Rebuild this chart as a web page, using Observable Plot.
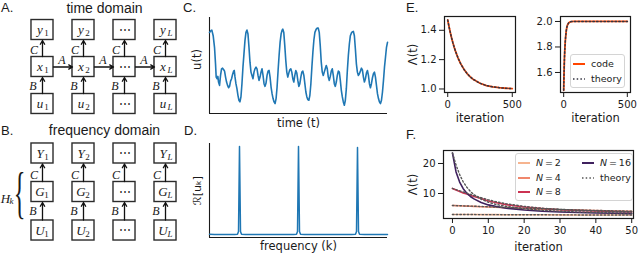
<!DOCTYPE html>
<html><head><meta charset="utf-8">
<script src="https://cdn.jsdelivr.net/npm/d3@7"></script>
<script src="https://cdn.jsdelivr.net/npm/@observablehq/plot@0.6"></script>
<style>
body{margin:0;background:#fff;}
#fig{position:relative;width:640px;height:256px;overflow:hidden;font-family:"DejaVu Sans",sans-serif;color:#1a1a1a;}
#fig > svg{position:absolute;overflow:visible;}
.lab{position:absolute;font-family:"Liberation Sans",Arial,sans-serif;font-size:13px;line-height:14px;color:#1a1a1a;}
.legend{position:absolute;background:rgba(255,255,255,0.85);border:1px solid #d4d4d4;border-radius:3px;font-family:"DejaVu Sans",sans-serif;font-size:9.5px;color:#222;}
.legend .item{position:absolute;display:flex;align-items:center;white-space:nowrap;line-height:12px;}
.legend .item svg{position:static;margin-right:6px;display:block;}
</style></head>
<body><div id="fig"></div>
<script>
// ---------- data ----------
const diagramCols = ["1", "2", "⋯", "L"];
const timeRows = ["y", "x", "u"];
const freqRows = ["Y", "G", "U"];
const vertLabels = ["C", "B"];
const horizLabel = "A";
const panelLetters = ["A.", "B.", "C.", "D.", "E.", "F."];
const diagramTitles = ["time domain", "frequency domain"];

// panel C: u(t) (time, value)
const signal = [
[43,245],[47,250],[50,252],[54,235],[58,200],[61,150],[63,110],[66,105],[68,112],[70,95],[73,85],[76,115],[79,135],[82,137],[85,133],[88,128],[91,110],[94,95],[97,85],[100,78],[103,82],[106,98],[109,105],[112,118],[115,128],[117,130],[119,112],[122,90],[125,75],[128,55],[131,40],[134,35],[137,50],[140,90],[143,140],[146,180],[149,220],[152,245],[155,252],
[158,240],[161,200],[164,155],[167,125],[170,115],[173,105],[176,125],[179,135],[182,140],[185,135],[188,115],[191,100],[194,110],[197,125],[200,135],[203,115],[206,90],[209,82],[212,92],[215,115],[218,128],[221,130],[224,110],[227,80],[230,60],[233,45],[236,35],[239,30],[242,45],[245,80],[248,130],[251,175],[254,215],[257,240],[260,252],[262,255],
[265,245],[268,205],[271,160],[274,125],[277,110],[280,122],[283,132],[286,135],[289,125],[292,105],[295,95],[298,115],[301,130],[304,122],[307,100],[310,82],[313,90],[316,110],[319,125],[322,128],[325,115],[328,90],[331,65],[334,50],[337,42],[340,40],[343,55],[346,90],[349,140],[352,185],[355,222],[358,245],[362,255],[365,258],[368,258],
[371,245],[374,205],[377,155],[380,125],[383,115],[386,125],[389,135],[392,145],[395,135],[398,110],[401,100],[404,112],[407,128],[410,135],[413,115],[416,90],[419,82],[422,95],[425,115],[428,128],[431,125],[434,100],[437,70],[440,50],[443,35],[446,25],[449,40],[452,75],[455,130],[458,175],[461,210],[464,235],[468,245],[471,247],[473,248],
[476,235],[479,195],[482,150],[485,125],[488,115],[491,120],[494,128],[497,137],[500,132],[503,110],[506,95],[509,105],[512,122],[515,130],[518,115],[521,90],[524,78],[527,90],[530,108],[533,120],[536,125],[539,110],[542,85],[545,60],[548,45],[551,35],[554,30],[557,40],[560,65],[563,100],[566,140],[569,170],[572,200],[575,215]
];

// panel D: real part of spectrum (frequency, value)
const spectrum = [
[0,3.2],[5,3.0],[10,3.1],[15,2.9],[20,3.1],[25,3.0],[28,3.3],[29,6],[30,91],[31,6],[32,3.3],[36,3.0],[42,3.1],[48,2.9],[54,3.0],[60,3.1],[66,3.0],[72,2.9],[78,3.1],[84,3.0],[87,3.3],[88,6],[89,91],[90,6],[91,3.3],[95,3.0],[100,3.1],[106,2.9],[112,3.0],[118,3.1],[124,2.9],[130,3.0],[136,3.1],[142,3.0],[146,3.3],[147,6],[148,90],[149,6],[150,3.3],[155,3.0],[160,2.9],[165,3.1],[170,3.0],[175,3.1],[178,3.0]
];

// panel E
const iterE = [0,10,20,30,40,50,60,80,100,125,150,175,200,250,300,350,400,450,500];
const codeELeft   = [1.47,1.425,1.385,1.348,1.315,1.285,1.258,1.211,1.173,1.135,1.105,1.082,1.064,1.039,1.023,1.014,1.009,1.005,1.003];
const theoryELeft = [1.47,1.425,1.385,1.348,1.315,1.285,1.258,1.211,1.173,1.135,1.105,1.082,1.064,1.039,1.023,1.014,1.009,1.005,1.003];
const iterERight = [0,2,4,6,8,10,12,15,20,25,30,40,50,60,80,100,200,300,400,500];
const codeERight   = [1.46,1.56,1.64,1.71,1.76,1.80,1.835,1.875,1.925,1.955,1.973,1.99,1.996,1.999,2.0,2.0,2.0,2.0,2.0,2.0];
const theoryERight = [1.46,1.56,1.64,1.71,1.76,1.80,1.835,1.875,1.925,1.955,1.973,1.99,1.996,1.999,2.0,2.0,2.0,2.0,2.0,2.0];
const eLeftYTicks = [1.0, 1.2, 1.4];
const eRightYTicks = [1.6, 1.8, 2.0];
const eXTicks = [0, 500];
const legendE = ["code", "theory"];

// panel F
const Ns = [2, 4, 8, 16];
const iterF = [0,1,2,3,4,5,6,8,10,12,15,20,25,30,35,40,45,50];
const codeF = {
  2:  [3.0,3.0,3.0,2.99,2.99,2.98,2.98,2.97,2.96,2.95,2.94,2.92,2.9,2.88,2.86,2.85,2.83,2.82],
  4:  [6.0,5.95,5.9,5.85,5.8,5.75,5.7,5.6,5.5,5.4,5.25,5.0,4.8,4.6,4.45,4.3,4.15,4.05],
  8:  [11.7,11.2,10.7,10.2,9.8,9.4,9.0,8.3,7.5,7.0,6.3,5.5,5.0,4.6,4.35,4.15,4.0,3.85],
  16: [23.5,17.2,13.8,11.6,10.1,9.0,8.2,7.0,6.2,5.7,5.1,4.5,4.1,3.85,3.65,3.5,3.4,3.3]
};
const theoryF = {
  2:  [3.0,3.0,3.0,2.99,2.99,2.98,2.98,2.97,2.96,2.95,2.94,2.92,2.9,2.88,2.86,2.85,2.83,2.82],
  4:  [6.0,5.96,5.92,5.88,5.84,5.8,5.76,5.67,5.58,5.49,5.35,5.12,4.9,4.7,4.52,4.36,4.22,4.1],
  8:  [11.7,11.3,10.9,10.5,10.1,9.7,9.3,8.6,7.9,7.3,6.6,5.7,5.1,4.7,4.4,4.2,4.05,3.9],
  16: [23.5,19.5,16.3,13.9,12.1,10.7,9.6,8.1,7.1,6.4,5.7,4.9,4.4,4.1,3.85,3.7,3.55,3.45]
};
const fYTicks = [10, 20];
const fXTicks = [0, 10, 20, 30, 40, 50];

// ---------- styles ----------
const blue = "#1f77b4", orange = "#ff4500", theoryColor = "#333340";
const nColors = ["#f6b48f", "#f0876c", "#cc3352", "#3f215e"];
const serif = "Liberation Serif, DejaVu Serif, serif";
const sans = "DejaVu Sans, sans-serif";

const fig = document.getElementById("fig");
function place(node, left, top) { node.style.left = left + "px"; node.style.top = top + "px"; fig.appendChild(node); return node; }

// ---------- panels A / B ----------
function diagram(rows, title, yRange, yPad, withA, braceLabel) {
  const boxes = rows.flatMap(r => diagramCols.map(c => ({row: r, col: c, base: c === "⋯" ? "⋯" : r, sub: c === "⋯" ? "" : c})));
  const marks = [
    Plot.cell(boxes, {x: "col", y: "row", fill: "white", stroke: "#2b2b2b", strokeWidth: 1.4, inset: 0}),
    Plot.arrow(diagramCols, {x1: d => d, x2: d => d, y1: () => rows[2], y2: () => rows[1], insetStart: 10.5, insetEnd: 10.5, headLength: 5, stroke: "#111", strokeWidth: 1.3}),
    Plot.arrow(diagramCols, {x1: d => d, x2: d => d, y1: () => rows[1], y2: () => rows[0], insetStart: 10.5, insetEnd: 10.5, headLength: 5, stroke: "#111", strokeWidth: 1.3}),
    Plot.text(boxes.filter(d => d.sub), {x: "col", y: "row", text: "base", dx: -2.5, fontStyle: "italic", fontFamily: serif, fontSize: 13}),
    Plot.text(boxes.filter(d => /\d/.test(d.sub)), {x: "col", y: "row", text: "sub", dx: 4, dy: 3.5, fontFamily: serif, fontSize: 9}),
    Plot.text(boxes.filter(d => /[A-Z]/.test(d.sub)), {x: "col", y: "row", text: "sub", dx: 4.5, dy: 3.5, fontStyle: "italic", fontFamily: serif, fontSize: 9}),
    Plot.text(boxes.filter(d => !d.sub), {x: "col", y: "row", text: "base", fontFamily: serif, fontSize: 12}),
    Plot.text(diagramCols, {x: d => d, y: () => rows[1], text: () => vertLabels[0], dx: -8.5, dy: -17, fontStyle: "italic", fontFamily: serif, fontSize: 12}),
    Plot.text(diagramCols, {x: d => d, y: () => rows[1], text: () => vertLabels[1], dx: -9.5, dy: 19, fontStyle: "italic", fontFamily: serif, fontSize: 12}),
    Plot.text([title], {frameAnchor: "top", text: d => d, dx: 4, dy: 8, lineAnchor: "middle", fontFamily: "Liberation Sans, Arial, sans-serif", fontSize: 14})
  ];
  if (withA) {
    marks.push(
      Plot.arrow(diagramCols.slice(0, -1), {x1: d => d, x2: (d, i) => diagramCols[i + 1], y1: () => rows[1], y2: () => rows[1], insetStart: 11, insetEnd: 11, headLength: 5, stroke: "#111", strokeWidth: 1.3}),
      Plot.text(diagramCols.slice(0, -1), {x: d => d, y: () => rows[1], text: () => horizLabel, dx: 19.5, dy: -6.5, fontStyle: "italic", fontFamily: serif, fontSize: 12})
    );
  }
  if (braceLabel) {
    marks.push(
      Plot.text([braceLabel[0]], {frameAnchor: "top-left", text: d => d, dx: 5, dy: 76, textAnchor: "middle", lineAnchor: "middle", fontStyle: "italic", fontFamily: serif, fontSize: 13}),
      Plot.text([braceLabel[1]], {frameAnchor: "top-left", text: d => d, dx: 11, dy: 79, textAnchor: "middle", lineAnchor: "middle", fontStyle: "italic", fontFamily: serif, fontSize: 9}),
      Plot.text(["{"], {frameAnchor: "top-left", text: d => d, dx: 19, dy: 71, textAnchor: "middle", lineAnchor: "middle", fontFamily: serif, fontSize: 58})
    );
  }
  return Plot.plot({
    width: 200, height: 134, margin: 0,
    x: {type: "band", domain: diagramCols, range: [12, 195], padding: 0.463, round: false, axis: null},
    y: {type: "band", domain: rows, range: yRange, padding: yPad, round: false, axis: null},
    style: {fontFamily: sans, color: "#1a1a1a", background: "transparent"},
    marks
  });
}
place(diagram(timeRows, diagramTitles[0], [2.5, 130.5], 0.46, true, null), 0, 0);
const diagB = place(diagram(freqRows, diagramTitles[1], [2.5, 136.5], 0.48, false, ["H", "k"]), 0, 122);
d3.select(diagB).selectAll("text").filter(function() { return this.textContent === "{"; })
  .style("transform-box", "fill-box").style("transform-origin", "center").style("transform", "scaleX(0.42)");

// ---------- panel C ----------
place(Plot.plot({
  width: 205, height: 128, marginLeft: 24, marginRight: 3, marginTop: 17, marginBottom: 15,
  x: {domain: [43, 575], axis: null}, y: {domain: [0, 290], axis: null},
  style: {fontFamily: sans, color: "#1a1a1a", background: "transparent"},
  marks: [
    Plot.ruleX([43], {stroke: "#1a1a1a", strokeWidth: 1.1}),
    Plot.ruleY([0], {stroke: "#1a1a1a", strokeWidth: 1.1}),
    Plot.line(signal, {x: d => d[0], y: d => d[1], stroke: blue, strokeWidth: 1.6}),
    Plot.text(["time (t)"], {frameAnchor: "bottom", text: d => d, dy: 10, lineAnchor: "middle", fontSize: 11.5}),
    Plot.text(["u(t)"], {frameAnchor: "left", text: d => d, dx: -12, dy: -6, rotate: -90, textAnchor: "middle", lineAnchor: "middle", fontSize: 11.5})
  ]
}), 185, 0);

// ---------- panel D ----------
place(Plot.plot({
  width: 205, height: 128, marginLeft: 24, marginRight: 3, marginTop: 15, marginBottom: 19,
  x: {domain: [0, 178], axis: null}, y: {domain: [0, 94], axis: null},
  style: {fontFamily: sans, color: "#1a1a1a", background: "transparent"},
  marks: [
    Plot.ruleX([0], {stroke: "#1a1a1a", strokeWidth: 1.1}),
    Plot.ruleY([0], {stroke: "#1a1a1a", strokeWidth: 1.1}),
    Plot.line(spectrum, {x: d => d[0], y: d => d[1], stroke: blue, strokeWidth: 1.5}),
    Plot.text(["frequency (k)"], {frameAnchor: "bottom", text: d => d, dy: 9, lineAnchor: "middle", fontSize: 11.5}),
    Plot.text(["ℛ[uₖ]"], {frameAnchor: "left", text: d => d, dx: -12, rotate: -90, textAnchor: "middle", lineAnchor: "middle", fontSize: 11})
  ]
}), 185, 128);

// ---------- panel E ----------
function ePanel(iters, code, theory, yDomain, yTicks, opts) {
  return Plot.plot({
    width: opts.width, height: 128, marginLeft: opts.ml, marginRight: opts.mr, marginTop: 16, marginBottom: 36,
    x: {domain: [-25, 525]}, y: {domain: yDomain},
    style: {fontFamily: sans, fontSize: "10px", color: "#1a1a1a", background: "transparent"},
    marks: [
      Plot.line(iters, {x: d => d, y: (d, i) => code[i], stroke: orange, strokeWidth: 1.8}),
      Plot.line(iters, {x: d => d, y: (d, i) => theory[i], stroke: theoryColor, strokeWidth: 1.5, strokeDasharray: "1.5,2.2"}),
      Plot.frame({stroke: "#1a1a1a", strokeWidth: 1.2}),
      Plot.axisX({ticks: eXTicks, tickSize: 5, tickPadding: 3, label: null}),
      Plot.axisY({ticks: yTicks, tickSize: 5, tickPadding: 3, tickFormat: ".1f", label: null}),
      Plot.text(["iteration"], {frameAnchor: "bottom", text: d => d, dy: 26, lineAnchor: "middle", fontSize: 11.5}),
      ...(opts.ylabel ? [Plot.text([opts.ylabel], {frameAnchor: "left", text: d => d, dx: -31, rotate: -90, textAnchor: "middle", lineAnchor: "middle", fontSize: 11.5})] : [])
    ]
  });
}
place(ePanel(iterE, codeELeft, theoryELeft, [0.976, 1.494], eLeftYTicks, {width: 125, ml: 49, mr: 5, ylabel: "Λ(t)"}), 395, 0);
place(ePanel(iterERight, codeERight, theoryERight, [1.443, 2.039], eRightYTicks, {width: 120, ml: 40, mr: 10, ylabel: null}), 520, 0);

// ---------- panel F ----------
const fRows = Ns.flatMap(n => iterF.map((it, i) => ({N: n, it, code: codeF[n][i], theory: theoryF[n][i]})));
place(Plot.plot({
  width: 245, height: 128, marginLeft: 48, marginRight: 7, marginTop: 22, marginBottom: 38,
  x: {domain: [-2.5, 50.5]}, y: {domain: [1.67, 24.33]},
  color: {domain: Ns, range: nColors},
  style: {fontFamily: sans, fontSize: "10px", color: "#1a1a1a", background: "transparent"},
  marks: [
    Plot.line(fRows, {x: "it", y: "code", z: "N", stroke: "N", strokeWidth: 1.6}),
    Plot.line(fRows, {x: "it", y: "theory", z: "N", stroke: "#555", strokeWidth: 1.4, strokeDasharray: "1.5,2.2"}),
    Plot.frame({stroke: "#1a1a1a", strokeWidth: 1.2}),
    Plot.axisX({ticks: fXTicks, tickSize: 5, tickPadding: 3, label: null}),
    Plot.axisY({ticks: fYTicks, tickSize: 5, tickPadding: 3, label: null}),
    Plot.text(["iteration"], {frameAnchor: "bottom", text: d => d, dy: 29, lineAnchor: "middle", fontSize: 11.5}),
    Plot.text(["Λ(t)"], {frameAnchor: "left", text: d => d, dx: -30, rotate: -90, textAnchor: "middle", lineAnchor: "middle", fontSize: 11.5})
  ]
}), 395, 128);

// ---------- legends ----------
function swatch(color, dotted, w) {
  const s = d3.create("svg").attr("width", w).attr("height", 6);
  s.append("line").attr("x1", 0).attr("x2", w).attr("y1", 3).attr("y2", 3)
    .attr("stroke", color).attr("stroke-width", dotted ? 1.5 : 2)
    .attr("stroke-dasharray", dotted ? "1.5,2.2" : null);
  return s.node();
}
function legendBox(left, top, w, h, items) {
  const box = document.createElement("div");
  box.className = "legend";
  Object.assign(box.style, {left: left + "px", top: top + "px", width: w + "px", height: h + "px"});
  for (const it of items) {
    const row = document.createElement("div");
    row.className = "item";
    row.style.left = it.x + "px"; row.style.top = it.y + "px";
    row.appendChild(swatch(it.color, it.dotted, it.sw));
    const t = document.createElement("span");
    t.innerHTML = it.html;
    row.appendChild(t);
    box.appendChild(row);
  }
  fig.appendChild(box);
}
legendBox(570, 54, 53, 32, [
  {x: 2, y: 3, color: orange, dotted: false, sw: 12, html: legendE[0]},
  {x: 2, y: 18, color: theoryColor, dotted: true, sw: 12, html: legendE[1]}
]);
const nItems = Ns.map((n, i) => ({
  x: i < 3 ? 2 : 66, y: i < 3 ? 3 + i * 14.5 : 3,
  color: nColors[i], dotted: false, sw: 12,
  html: `<i>N</i>&#8201;=&#8201;${n}`
}));
nItems.push({x: 66, y: 17.5, color: "#555", dotted: true, sw: 12, html: legendE[1]});
legendBox(515, 153, 116, 46, nItems);

// ---------- panel letters ----------
const letterPos = [[1, 1], [1, 124], [183, 1], [184, 124], [406, 1], [406, 128]];
panelLetters.forEach((l, i) => {
  const d = document.createElement("div");
  d.className = "lab"; d.textContent = l;
  place(d, letterPos[i][0], letterPos[i][1]);
});
</script>
</body></html>
